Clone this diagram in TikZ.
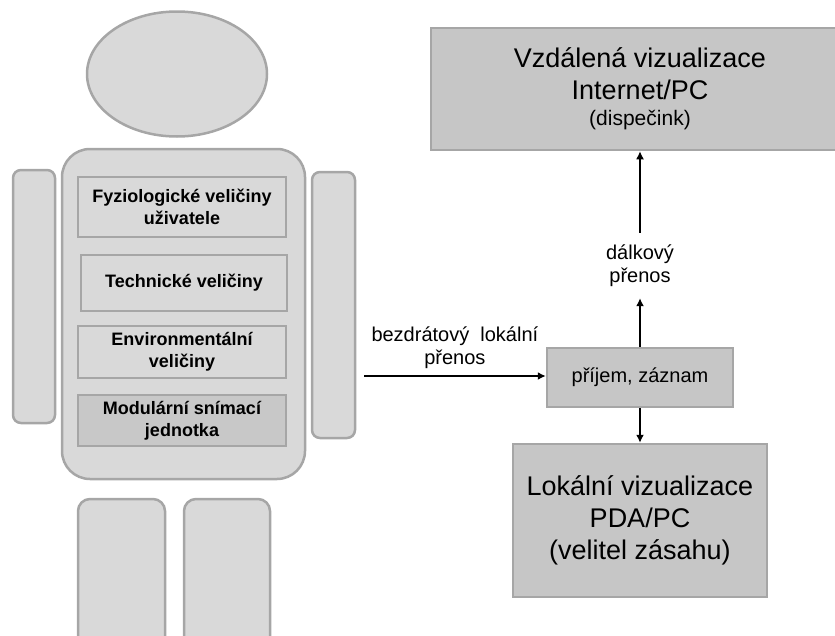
\documentclass[tikz,border=0pt]{standalone}
\usepackage{fontspec}
\setmainfont{Liberation Sans}
\usetikzlibrary{shapes.geometric,arrows.meta,positioning}
\definecolor{partfill}{HTML}{D9D9D9}
\definecolor{partline}{HTML}{A6A6A6}
\definecolor{visfill}{HTML}{C6C6C6}
\definecolor{modfill}{HTML}{C8C8C8}
\tikzset{
	suitPart/.style={
		draw=partline,
		fill=partfill,
		line width=2.5pt,
		inner sep=0pt
	},
	suitLimb/.style={suitPart, rounded corners=8pt},
	suitQuant/.style={
		draw=partline,
		fill=partfill,
		line width=2.5pt,
		align=center,
		inner sep=0pt,
		minimum width=208pt,
		font=\fontsize{18}{22}\selectfont\bfseries
	},
	suitModule/.style={suitQuant, fill=modfill},
	suitVis/.style={
		draw=partline,
		fill=visfill,
		line width=2.5pt,
		align=center,
		inner sep=0pt,
		font=\fontsize{27}{32}\selectfont
	},
	suitLabel/.style={align=center, inner sep=0pt, font=\fontsize{20}{23}\selectfont},
	suitFlow/.style={-{Latex[length=8pt,width=8pt]}, line width=1.5pt}
}
\begin{document}
\begin{tikzpicture}[x=1pt,y=-1pt]
	\useasboundingbox (0,0) rectangle (835,635);

	% Figure
	\node[suitPart, ellipse, minimum width=180pt, minimum height=125pt] (head) at (177,74) {};
	\node[suitLimb, minimum width=42pt, minimum height=253pt] (larm) at (34,296.5) {};
	\node[suitLimb, minimum width=43pt, minimum height=266pt] (rarm) at (333.5,305) {};
	\node[suitLimb, rounded corners=12pt, minimum width=87pt, minimum height=160pt] (lleg) at (121.5,579) {};
	\node[suitLimb, rounded corners=12pt, minimum width=86pt, minimum height=160pt] (rleg) at (227,579) {};
	\node[suitPart, rounded corners=28pt, minimum width=243pt, minimum height=330pt] (torso) at (183.5,314) {};

	% Measured quantities
	\node[suitQuant, minimum height=60pt] (fyz) at (182,207) {Fyziologické veličiny\\uživatele};
	\node[suitQuant, minimum width=206pt, minimum height=56pt] (tech) at (184,283) {Technické veličiny};
	\node[suitQuant, minimum height=52pt] (env) at (182,352) {Environmentální\\veličiny};
	\node[suitModule, minimum height=51pt] (modul) at (182,420.5) {Modulární snímací\\jednotka};

	% Visualisation
	\node[suitVis, minimum width=418pt, minimum height=122pt] (remote) at (640,89)
	{Vzdálená vizualizace\\Internet/PC\\[-6pt]{\fontsize{21}{26}\selectfont(dispečink)}};
	\node[suitVis, minimum width=186pt, minimum height=59pt, font=\fontsize{20}{24}\selectfont] (prijem) at (640,377.5)
	{příjem, záznam};
	\node[suitVis, minimum width=254pt, minimum height=153pt] (local) at (640,520.5)
	{Lokální vizualizace\\PDA/PC\\(velitel zásahu)};
	\node[suitLabel, minimum height=65pt] (dalk) at (640,265.5) {dálkový\\přenos};
	\coordinate (wireless) at (364,376);

	% Flows
	\draw[suitFlow] (wireless) -- node[suitLabel, anchor=south, yshift=7pt] (bezd) {bezdrátový\ \ lokální\\přenos} (wireless -| prijem.west);
	\draw[suitFlow] (prijem) -- (dalk);
	\draw[suitFlow] (dalk) -- (remote);
	\draw[suitFlow] (prijem) -- (local);
\end{tikzpicture}
\end{document}
